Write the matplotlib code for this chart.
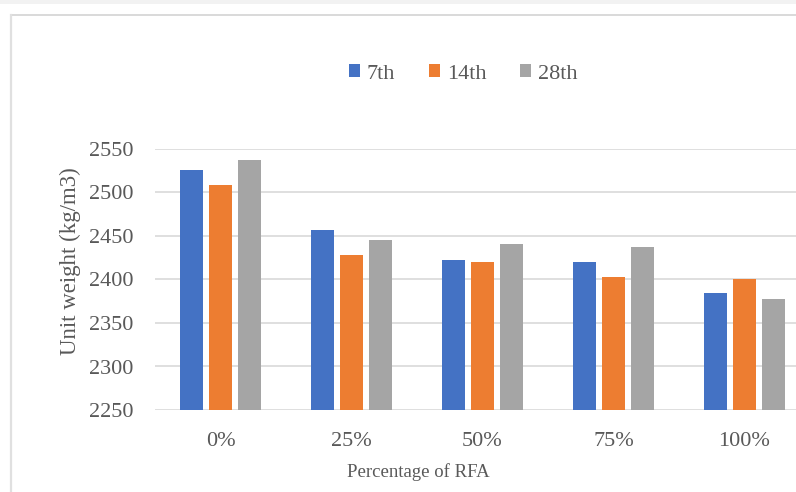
import matplotlib
matplotlib.use("Agg")
import matplotlib.pyplot as plt
import numpy as np
from matplotlib.patches import Rectangle
from matplotlib.lines import Line2D

# Unit weight of concrete by RFA replacement level and curing age
categories = ["0%", "25%", "50%", "75%", "100%"]
series_names = ["7th", "14th", "28th"]
day7 = [2526, 2457, 2422, 2420, 2385]
day14 = [2509, 2428, 2420, 2403, 2401]
day28 = [2537, 2445, 2441, 2437, 2378]
yticks = [2250, 2300, 2350, 2400, 2450, 2500, 2550]

colors = ["#4472C4", "#ED7D31", "#A5A5A5"]
text_color = "#595959"
grid_color = "#D9D9D9"
font = ["Liberation Serif", "DejaVu Serif"]
plt.rcParams["font.family"] = font

W, H = 796, 492
fig = plt.figure(figsize=(W / 100, H / 100), dpi=100)
fig.patch.set_facecolor("white")

# thin grey strip at the very top and the chart frame
fig.add_artist(Rectangle((0, 1 - 4 / H), 1, 4 / H, transform=fig.transFigure,
                         facecolor="#F2F2F2", edgecolor="none"))
fig.add_artist(Line2D([10.5 / W, 1], [1 - 15 / H, 1 - 15 / H], transform=fig.transFigure,
                      color=grid_color, lw=1.4))
fig.add_artist(Line2D([10.5 / W, 10.5 / W], [0, 1 - 15 / H], transform=fig.transFigure,
                      color="#E0E0E0", lw=1.6))

left, right = 155, 810
top, bottom = 149, 410
ax = fig.add_axes([left / W, 1 - bottom / H, (right - left) / W, (bottom - top) / H])
ax.set_facecolor("none")

x = np.arange(len(categories))
bw = 0.176
step = 0.222
for i, (vals, c, name) in enumerate(zip([day7, day14, day28], colors, series_names)):
    ax.bar(x + (i - 1) * step, vals, width=bw, color=c, label=name, zorder=3)

ax.set_xlim(-0.5, len(categories) - 0.5)
ax.set_ylim(yticks[0], yticks[-1])
ax.set_yticks(yticks)
ax.set_xticks(x)
ax.set_xticklabels(categories)
ax.grid(axis="y", color=grid_color, lw=1.2, zorder=0)
ax.set_axisbelow(True)
for s in ax.spines.values():
    s.set_visible(False)
ax.tick_params(axis="both", length=0, colors=text_color, labelsize=16)
ax.tick_params(axis="y", pad=15.5)
ax.tick_params(axis="x", pad=15.5)

fig.text(70 / W, 1 - 261.5 / H, "Unit weight (kg/m3)", rotation=90, ha="center",
         va="center", fontsize=16.5, color=text_color)
fig.text(418.5 / W, 1 - 477 / H, "Percentage of RFA", ha="center", va="baseline",
         fontsize=13.5, color=text_color)

leg = fig.legend(loc="center", bbox_to_anchor=(463 / W, 1 - 74 / H), ncol=3,
                 frameon=False, fontsize=16, handlelength=0.52, handleheight=0.52,
                 handletextpad=0.3, columnspacing=1.5, labelcolor=text_color)

fig.savefig("out.png", dpi=100)
